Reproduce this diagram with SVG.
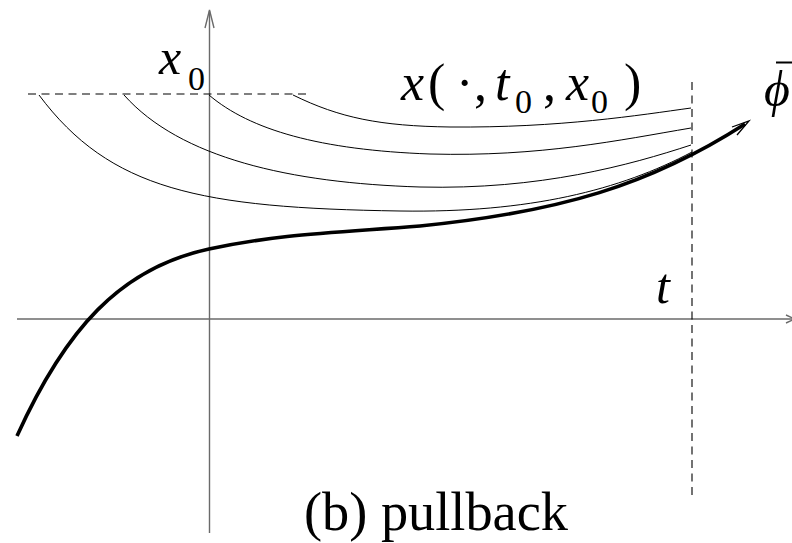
<svg xmlns="http://www.w3.org/2000/svg" width="792" height="543" viewBox="0 0 792 543">
<style>
.axis{stroke:#6a6a6a;stroke-width:1.4;fill:none}
.dash{stroke:#000;stroke-width:1.1;fill:none;stroke-dasharray:8 5.5}
.thin{stroke:#000;stroke-width:1;fill:none}
.thick{stroke:#000;stroke-width:3.6;fill:none;stroke-linecap:butt}
.lbl{font-family:"Liberation Serif","DejaVu Serif",serif;fill:#000}
.it{font-style:italic}
</style>
<rect width="792" height="543" fill="#fff"/>
<g id="axes">
<line class="axis" x1="209.5" y1="533" x2="209.5" y2="11"/>
<polyline class="axis" points="205,28 209.5,10 214,28"/>
<line class="axis" x1="17" y1="319" x2="794" y2="319"/>
<polyline class="axis" points="786,315 795,319 786,323"/>
</g>
<g id="guides">
<line class="dash" x1="28" y1="94" x2="308" y2="94"/>
<line class="dash" x1="692" y1="82" x2="692" y2="500"/>
</g>
<g id="connectors">
<path class="thin" d="M293,95 C340,118 380,126 450,127 C560,128 640,115 691,108"/>
<path class="thin" d="M209,95 C250,130 320,150 430,154 C540,157 620,140 691,128"/>
<path class="thin" d="M124,95 C180,158 290,183 420,187 C540,190 630,165 691,145"/>
<path class="thin" d="M39,95 C110,190 200,208 400,211 C530,213 620,190 692,152"/>
<path class="thick" d="M17,436 C65,330 120,268 209,249 C279,234 330,233 420,226 C560,212 650,185 745,124"/>
<polyline class="thin" points="732,127 749,121 737,135" style="stroke-width:1.3"/>
</g>
<g id="label-x0">
<text class="lbl" x="159" y="74" font-size="50"><tspan class="it">x</tspan><tspan x="188" y="90" font-size="34">0</tspan></text>
</g>
<g id="label-solution">
<text class="lbl" y="100" font-size="52"><tspan class="it" x="401">x</tspan><tspan x="428">(</tspan><tspan x="456">·</tspan><tspan x="474">,</tspan><tspan class="it" x="495">t</tspan><tspan x="515" y="113" font-size="34">0</tspan><tspan x="543" y="100">,</tspan><tspan class="it" x="566">x</tspan><tspan x="591" y="113" font-size="34">0</tspan><tspan x="624" y="100">)</tspan></text>
</g>
<g id="label-phibar">
<line x1="776" y1="62.5" x2="795" y2="62.5" stroke="#000" stroke-width="2"/>
<text class="lbl it" x="764" y="106" font-size="50">ϕ</text>
</g>
<g id="label-t">
<text class="lbl it" x="656" y="303" font-size="50">t</text>
</g>
<g id="caption">
<text class="lbl" x="304" y="530" font-size="54" textLength="264" lengthAdjust="spacingAndGlyphs">(b) pullback</text>
</g>
</svg>
